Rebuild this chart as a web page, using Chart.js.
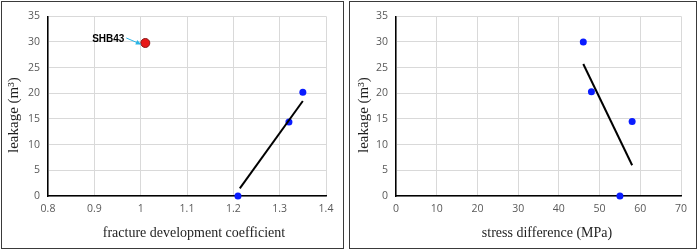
<!DOCTYPE html>
<html>
<head>
<meta charset="utf-8">
<script src="https://cdn.jsdelivr.net/npm/chart.js@4.4.1/dist/chart.umd.min.js"></script>
<style>
  html, body { margin: 0; padding: 0; background: #fff; }
  body { width: 699px; height: 251px; position: relative; overflow: hidden; }
  .box { position: absolute; box-sizing: border-box; border: 1px solid #3a3a3a; }
  canvas { position: absolute; }
</style>
</head>
<body>
<div class="box" style="left:1px;top:1px;width:343px;height:248px"></div>
<div class="box" style="left:349px;top:1px;width:348px;height:248px"></div>
<canvas id="chartFrac" width="340" height="245" style="left:2px;top:2px"></canvas>
<canvas id="chartStress" width="344" height="245" style="left:351px;top:2px"></canvas>
<script>
// left panel: leakage vs fracture development coefficient
const fracX = [1.21, 1.32, 1.35];
const fracY = [0, 14.4, 20.2];
const outlierX = [1.01];
const outlierY = [29.8];
const outlierLabel = 'SHB43';
const fracTrendX = [1.214, 1.35];
const fracTrendY = [1.5, 18.5];

// right panel: leakage vs stress difference
const stressX = [46, 48, 58, 55];
const stressY = [30, 20.3, 14.5, 0];
const stressTrendX = [46, 58];
const stressTrendY = [25.7, 6.0];

const yTitle = 'leakage (m³)';
const fracTitle = 'fracture development coefficient';
const stressTitle = 'stress difference (MPa)';

const pts = (xs, ys) => xs.map((x, i) => ({ x, y: ys[i] }));

// draws the SHB43 label with a little cyan arrow
const calloutPlugin = {
  id: 'callout',
  afterDatasetsDraw(chart) {
    const ds = chart.data.datasets.find(d => d.callout);
    if (!ds) return;
    const px = chart.scales.x.getPixelForValue(ds.data[0].x);
    const py = chart.scales.y.getPixelForValue(ds.data[0].y);
    const ctx = chart.ctx;
    ctx.save();
    ctx.font = 'bold 10px "Liberation Sans", Arial, sans-serif';
    ctx.fillStyle = '#000';
    ctx.textAlign = 'center';
    ctx.textBaseline = 'middle';
    ctx.fillText(ds.callout, px - 37, py - 4);
    // arrow
    const x1 = px - 19, y1 = py - 5, x2 = px - 5, y2 = py + 1;
    ctx.strokeStyle = '#2bb5e6';
    ctx.fillStyle = '#2bb5e6';
    ctx.lineWidth = 1;
    ctx.beginPath();
    ctx.moveTo(x1, y1);
    ctx.lineTo(x2, y2);
    ctx.stroke();
    const a = Math.atan2(y2 - y1, x2 - x1);
    ctx.beginPath();
    ctx.moveTo(x2 + 1, y2 + 0.5);
    ctx.lineTo(x2 - 5 * Math.cos(a - 0.5), y2 - 5 * Math.sin(a - 0.5));
    ctx.lineTo(x2 - 5 * Math.cos(a + 0.5), y2 - 5 * Math.sin(a + 0.5));
    ctx.closePath();
    ctx.fill();
    ctx.restore();
  }
};

// axis titles, drawn by hand because the originals sit a bit off-centre
const titlePlugin = {
  id: 'axisTitles',
  afterDraw(chart, args, opts) {
    const { ctx, chartArea } = chart;
    ctx.save();
    ctx.fillStyle = '#1e1e1e';
    ctx.textAlign = 'center';
    ctx.textBaseline = 'middle';
    ctx.font = '14px "Liberation Serif", "Times New Roman", serif';
    ctx.fillText(opts.x, (chartArea.left + chartArea.right) / 2 + opts.dx, opts.xTitleY);
    ctx.translate(opts.yTitleX, (chartArea.top + chartArea.bottom) / 2 + opts.dy);
    ctx.rotate(-Math.PI / 2);
    ctx.font = '15px "Liberation Serif", "Times New Roman", serif';
    ctx.fillText(opts.y, 0, 0);
    ctx.restore();
  }
};

function makeChart(id, datasets, xMin, xMax, xStep, xTitle, yAxisWidth, padRight, dx, yTitleX) {
  new Chart(document.getElementById(id), {
    type: 'scatter',
    data: { datasets },
    options: {
      responsive: false,
      animation: false,
      layout: { padding: { top: 13, right: padRight, left: 0, bottom: 0 } },
      plugins: {
        legend: { display: false },
        tooltip: { enabled: false },
        axisTitles: { x: xTitle, y: yTitle, dx: dx, dy: 9, xTitleY: 231.5, yTitleX: yTitleX }
      },
      scales: {
        x: {
          type: 'linear', min: xMin, max: xMax,
          afterFit: s => { s.height = 51; },
          ticks: {
            stepSize: xStep, padding: 7, color: '#595959',
            font: { family: '"Open Sans", "Liberation Sans", sans-serif', size: 10.5 },
            callback: v => String(+v.toFixed(1))
          },
          grid: { color: '#d9d9d9', drawTicks: false },
          border: { color: '#000', width: 1.5 }
        },
        y: {
          type: 'linear', min: 0, max: 35,
          afterFit: s => { s.width = yAxisWidth; },
          ticks: {
            stepSize: 5, padding: 8, color: '#595959',
            font: { family: '"Open Sans", "Liberation Sans", sans-serif', size: 10.5 }
          },
          grid: { color: '#d9d9d9', drawTicks: false },
          border: { color: '#000', width: 1.5 }
        }
      }
    },
    plugins: [calloutPlugin, titlePlugin]
  });
}

const trendStyle = { showLine: true, borderColor: '#000', borderWidth: 2, pointRadius: 0, fill: false };
const dotStyle = { backgroundColor: '#0a1cff', borderColor: '#0a1cff', pointRadius: 3.5, borderWidth: 0, clip: false };

makeChart('chartFrac', [
  Object.assign({ data: pts(fracTrendX, fracTrendY) }, trendStyle),
  Object.assign({ data: pts(fracX, fracY) }, dotStyle),
  { data: pts(outlierX, outlierY), callout: outlierLabel, backgroundColor: '#e81818', borderColor: '#8a1a1a', borderWidth: 1, pointRadius: 4.5, clip: false }
], 0.8, 1.4, 0.1, fracTitle, 46, 16, 7, 12);

makeChart('chartStress', [
  Object.assign({ data: pts(stressTrendX, stressTrendY) }, trendStyle),
  Object.assign({ data: pts(stressX, stressY) }, dotStyle)
], 0, 70, 10, stressTitle, 45, 14, 8.5, 13);
</script>
</body>
</html>
